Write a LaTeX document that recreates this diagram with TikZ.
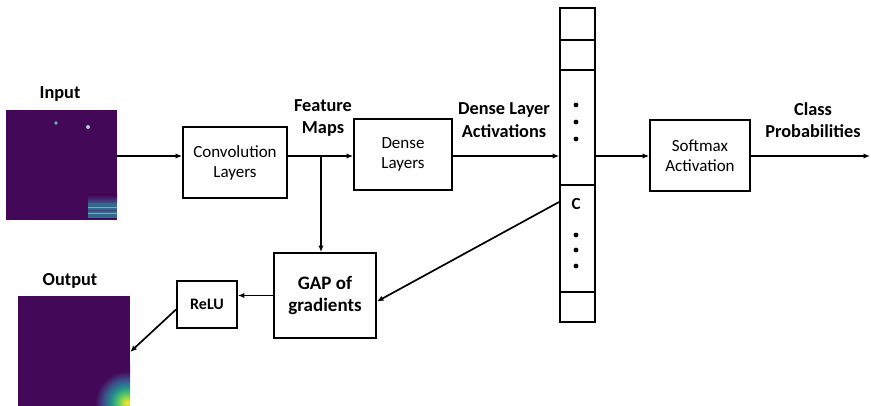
\documentclass[tikz,border=0pt]{standalone}
\usepackage{fontspec}
\setmainfont{Carlito}
\usetikzlibrary{arrows.meta,calc}

% viridis colour steps used by the heat maps
\definecolor{vpurple}{RGB}{68,8,88}
\definecolor{vblue}{RGB}{59,82,139}
\definecolor{vteal}{RGB}{33,145,140}
\definecolor{vgreen}{RGB}{94,201,98}
\definecolor{vyellow}{RGB}{253,231,37}

% radial blob; a shaded circle's rim sits at 25bp
\pgfdeclareradialshading{viridisblob}{\pgfpoint{0bp}{0bp}}{%
  color(0bp)=(vyellow); color(2.5bp)=(vyellow!60!vgreen); color(5.5bp)=(vgreen);
  color(10bp)=(vteal); color(14.5bp)=(vblue); color(20bp)=(vpurple);
  color(25bp)=(vpurple); color(50bp)=(vpurple)}

\begin{document}
\begin{tikzpicture}[x=1pt,y=-1pt,
  box/.style={draw,line width=1.9pt,align=center,inner sep=0pt,
    font=\fontsize{17}{20}\selectfont},
  boldbox/.style={box,font=\fontsize{19}{21.5}\bfseries\selectfont},
  lbl/.style={align=center,inner sep=0pt,font=\fontsize{18.3}{22.5}\bfseries\selectfont},
  heat/.style={inner sep=0pt,fill=vpurple},
  arr/.style={line width=1.7pt,-{Latex[length=6.5pt,width=5.5pt]}},
  dotmark/.style={fill=black},
]
\useasboundingbox (0,0) rectangle (871,406);

% ---- heat maps -------------------------------------------------------
\node[heat,minimum width=111pt,minimum height=110pt] (inimg) at (61.5,165) {};
\fill[vteal!70!white] (56,123) circle (1.8);
\fill[vteal!40!white] (88,127) circle (2);
\shade[top color=vpurple,bottom color=vblue] (88,195) rectangle (117,203);
\fill[vblue!60!vteal] (88,203) rectangle (117,218);
\draw[vgreen,line width=1.5pt] (88,207.5) -- (117,207.5);
\draw[vblue!70!vpurple,line width=1pt] (88,210.5) -- (117,210.5);
\draw[vgreen,line width=1.5pt] (88,213.5) -- (117,213.5);

\node[heat,minimum width=112pt,minimum height=112pt] (outimg) at (74,352) {};
\begin{scope}
  \clip (outimg.north west) rectangle (outimg.south east);
  \shade[shading=viridisblob] (127,403) circle (40);
\end{scope}

\node[lbl] (inlbl) at (60,94) {Input};
\node[lbl] (outlbl) at (70,281) {Output};

% ---- processing boxes ------------------------------------------------
\node[box,minimum width=104pt,minimum height=71pt] (conv) at (235,162.5) {Convolution\\Layers};
\node[box,minimum width=98pt,minimum height=71pt] (dense) at (403,154.5) {Dense\\Layers};
\node[box,minimum width=100pt,minimum height=71pt] (soft) at (700,155.5) {Softmax\\Activation};
\node[boldbox,minimum width=102pt,minimum height=85pt] (gap) at (325,295.5) {GAP of\\gradients};
\node[box,minimum width=60pt,minimum height=47pt,font=\fontsize{16}{19}\bfseries\selectfont] (relu) at (207,304.5) {ReLU};

% ---- activation vector -----------------------------------------------
\node[draw,line width=1.9pt,minimum width=35pt,minimum height=314pt,inner sep=0pt] (vec) at (577.5,165) {};
\foreach \yy in {40,70,185,292}
  \draw[line width=1.9pt] (vec.west |- 0,\yy) -- (vec.east |- 0,\yy);
\foreach \yy in {105,122,139,235,250,266}
  \fill[dotmark] (576,\yy) circle (2.4);
\node[font=\fontsize{17}{19}\bfseries\selectfont,inner sep=0pt] (ccell) at (576,204) {C};

% ---- labels ----------------------------------------------------------
\node[lbl] (fmlbl) at (323,118) {Feature\\Maps};
\node[lbl] (dalbl) at (504,120) {Dense Layer\\Activations};
\node[lbl] (cplbl) at (813,120) {Class\\Probabilities};

% ---- connectors ------------------------------------------------------
\coordinate (axis) at (0,156);
\coordinate (fmsplit) at (321,156);
\coordinate (probs) at (870,156);
\draw[arr] (inimg.east |- axis) -- (conv.west |- axis);
\draw[arr] (conv.east |- axis) -- (dense.west |- axis);
\draw[arr] (fmsplit) -- (fmsplit |- gap.north);
\draw[arr] (dense.east |- axis) -- (vec.west |- axis);
\draw[arr] (vec.east |- axis) -- (soft.west |- axis);
\draw[arr] (soft.east |- axis) -- (probs);
\draw[arr] (vec.west |- 0,202) -- ($(gap.east)+(0,6)$);
\draw[arr] (gap.west) -- (gap.west -| relu.east);
\draw[arr] ($(relu.west)+(0,5)$) -- (outimg.east);
\end{tikzpicture}
\end{document}
